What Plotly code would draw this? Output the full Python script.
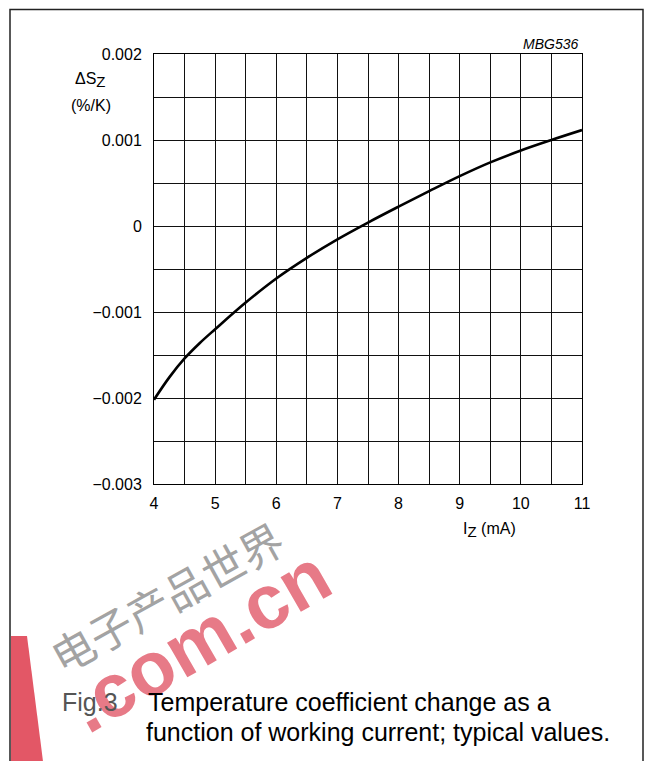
import plotly.graph_objects as go

# ---- data ----
iz_ma = [4.0, 4.25, 4.5, 4.75, 5.0, 5.5, 6.0, 6.5, 7.0, 7.5, 8.0, 8.5, 9.0, 9.5, 10.0, 10.5, 11.0]
dsz = [-0.00202, -0.00176, -0.00154, -0.00136, -0.00120, -0.00089, -0.00061, -0.00037,
       -0.000155, 0.00004, 0.000225, 0.000405, 0.00058, 0.00074, 0.000878, 0.00100, 0.001115]

x_ticks = [4, 5, 6, 7, 8, 9, 10, 11]
x_tick_labels = ["4", "5", "6", "7", "8", "9", "10", "11"]
y_ticks = [-0.003, -0.002, -0.001, 0, 0.001, 0.002]
y_tick_labels = ["\u22120.003", "\u22120.002", "\u22120.001", "0", "0.001", "0.002"]

# page offset of the plot div (browser body margin); keep the page from overflowing
OFF = 8
W, H = 653 - 2 * OFF, 769 - 2 * OFF
# plot area in reference-page pixels
PL, PR, PT, PB = 154, 582, 54, 484
FONT = "Liberation Sans, Arial, sans-serif"


def px(x):
    return (x - PL) / (PR - PL)


def py(y):
    return (PB - y) / (PB - PT)


fig = go.Figure()
fig.add_trace(go.Scatter(
    x=iz_ma, y=dsz, mode="lines",
    line=dict(color="black", width=2.6, shape="spline", smoothing=1.0),
    hoverinfo="skip", showlegend=False,
))

axis_common = dict(
    showline=True, mirror=True, linecolor="black", linewidth=1,
    showgrid=True, gridcolor="#111", gridwidth=1, zeroline=False,
    ticks="outside", tickcolor="rgba(0,0,0,0)",
    tickfont=dict(family=FONT, size=16, color="black"),
)

fig.update_xaxes(
    range=[4, 11], tickmode="array", tickvals=x_ticks, ticktext=x_tick_labels,
    ticklen=5,
    minor=dict(tickmode="linear", tick0=4, dtick=0.5, showgrid=True,
               gridcolor="#111", gridwidth=1, ticks=""),
    **axis_common,
)
fig.update_yaxes(
    range=[-0.003, 0.002], tickmode="array", tickvals=y_ticks, ticktext=y_tick_labels,
    ticklen=8,
    minor=dict(tickmode="linear", tick0=-0.003, dtick=0.0005, showgrid=True,
               gridcolor="#111", gridwidth=1, ticks=""),
    **axis_common,
)

annotations = [
    dict(x=px(580), y=py(44), text="<i>MBG536</i>", xanchor="right", yanchor="middle",
         font=dict(family=FONT, size=14, color="black")),
    dict(x=px(108), y=py(80), text="\u0394S<sub><span style='font-size:15px'>Z</span></sub>",
         xanchor="right", yanchor="middle",
         font=dict(family=FONT, size=16, color="black")),
    dict(x=px(113), y=py(105), text="(%/K)", xanchor="right", yanchor="middle",
         font=dict(family=FONT, size=16, color="black")),
    dict(x=px(461), y=py(530),
         text="I<sub><span style='font-size:15px'>Z</span></sub> (mA)",
         xanchor="left", yanchor="middle",
         font=dict(family=FONT, size=16, color="black")),
    # watermark
    dict(x=px(166), y=py(596), text="电子产品世界", textangle=-29, xanchor="center",
         yanchor="middle", font=dict(family="Noto Sans CJK SC", size=43, color="#a3a3a3")),
    dict(x=px(198), y=py(640), text="<b>.com.cn</b>", textangle=-30, xanchor="center",
         yanchor="middle", font=dict(family=FONT, size=76, color="#e77a87")),
    # caption
    dict(x=px(60), y=py(702), text="Fig.3", xanchor="left", yanchor="middle",
         font=dict(family=FONT, size=25, color="#555")),
    dict(x=px(146), y=py(702), text="Temperature coefficient change as a",
         xanchor="left", yanchor="middle", font=dict(family=FONT, size=25, color="black")),
    dict(x=px(144), y=py(732), text="function of working current; typical values.",
         xanchor="left", yanchor="middle", font=dict(family=FONT, size=25, color="black")),
]
for a in annotations:
    a.update(xref="paper", yref="paper", showarrow=False)

# frame edges, limited to what fits inside the figure
FR_L, FR_T, FR_R = 10, OFF + 1.5, OFF + W - 2
shapes = [
    dict(type="rect", xref="paper", yref="paper", x0=px(FR_L), x1=px(FR_R), y0=py(820), y1=py(FR_T),
         line=dict(color="#222", width=1.5), layer="below"),
    # watermark red bar
    dict(type="path", xref="paper", yref="paper",
         path=f"M {px(11)},{py(636)} L {px(27)},{py(636)} L {px(44)},{py(769)} L {px(11)},{py(769)} Z",
         fillcolor="#e35766", line=dict(width=0), layer="above"),
]

fig.update_layout(
    width=W, height=H,
    margin=dict(l=PL - OFF, r=W - (PR - OFF), t=PT - OFF, b=H - (PB - OFF), pad=0),
    paper_bgcolor="white", plot_bgcolor="white",
    annotations=annotations, shapes=shapes,
    showlegend=False,
)

fig.write_html("out.html")
